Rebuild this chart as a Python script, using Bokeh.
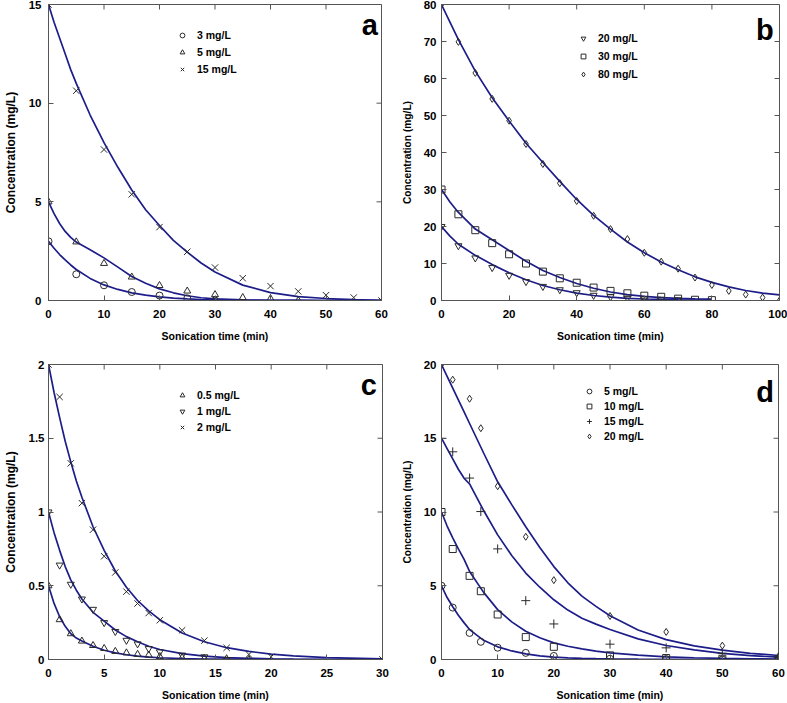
import math
from bokeh.plotting import figure
from bokeh.models import Range1d, Legend, LegendItem, Label, FixedTicker
from bokeh.layouts import column, row
from bokeh.embed import file_html
from bokeh.resources import INLINE

# ---------------- data ----------------
# Panel a
a_t3 = [0, 5, 10, 15, 20, 25, 30]
a_c3 = [3.0, 1.33, 0.77, 0.43, 0.25, 0.11, 0.0]
a_t5 = [0, 5, 10, 15, 20, 25, 30, 35, 40, 45]
a_c5 = [5.0, 2.97, 1.88, 1.19, 0.76, 0.48, 0.30, 0.15, 0.10, 0.0]
a_t15 = [0, 5, 10, 15, 20, 25, 30, 35, 40, 45, 50, 55, 60]
a_c15 = [15.0, 10.63, 7.65, 5.38, 3.72, 2.47, 1.67, 1.13, 0.73, 0.46, 0.27, 0.15, 0.0]
a_fit_t = [0, 1, 2, 3, 4, 5, 7.5, 10, 12.5, 15, 17.5, 20, 22.5, 25, 27.5, 30, 35, 40, 45, 50, 55, 60]
a_fit3 = [3.0, 2.65, 2.33, 2.06, 1.8, 1.57, 1.12, 0.79, 0.56, 0.39, 0.27, 0.18, 0.12, 0.08, 0.05, 0.035, 0.015, 0.007, 0.003, 0.001, 0.0, 0.0]
a_fit5 = [5.0, 4.4, 3.9, 3.5, 3.2, 2.96, 2.57, 2.16, 1.69, 1.22, 0.87, 0.59, 0.39, 0.24, 0.14, 0.08, 0.03, 0.01, 0.005, 0.0, 0.0, 0.0]
a_fit15 = [15.0, 14.1, 13.3, 12.5, 11.7, 11.0, 9.4, 8.0, 6.75, 5.6, 4.6, 3.8, 3.05, 2.45, 1.9, 1.44, 0.78, 0.4, 0.2, 0.1, 0.04, 0.01]

# Panel b
b_t20 = [0, 5, 10, 15, 20, 25, 30, 35, 40, 45, 50, 55, 60, 65, 70]
b_c20 = [20.0, 14.8, 11.5, 8.9, 6.8, 5.1, 3.8, 2.9, 2.1, 1.4, 1.0, 0.65, 0.45, 0.35, 0.2]
b_t30 = [0, 5, 10, 15, 20, 25, 30, 35, 40, 45, 50, 55, 60, 65, 70, 75, 80]
b_c30 = [30.0, 23.3, 19.0, 15.5, 12.5, 10.0, 7.8, 6.0, 4.8, 3.5, 2.6, 1.95, 1.3, 1.0, 0.5, 0.2, 0.1]
b_t80 = [0, 5, 10, 15, 20, 25, 30, 35, 40, 45, 50, 55, 60, 65, 70, 75, 80, 85, 90, 95, 100]
b_c80 = [80.0, 69.9, 61.5, 54.5, 48.6, 42.3, 36.9, 31.7, 26.9, 22.9, 19.3, 16.6, 12.9, 10.5, 8.6, 6.2, 4.2, 2.6, 1.6, 0.8, 0.0]
b_fit_t = [0, 2.5, 5, 10, 15, 20, 25, 30, 35, 40, 45, 50, 55, 60, 65, 70, 75, 80]
b_fit20 = [20.0, 17.4, 15.2, 12.2, 9.7, 7.5, 5.6, 4.05, 2.9, 2.0, 1.35, 0.9, 0.6, 0.4, 0.28, 0.2, 0.14, 0.1]
b_fit30 = [30.0, 26.6, 23.8, 19.3, 16.4, 13.5, 10.6, 8.1, 6.2, 4.6, 3.3, 2.3, 1.6, 1.1, 0.8, 0.6, 0.45, 0.35]
b_fit80_t = [0, 5, 10, 15, 20, 25, 30, 35, 40, 45, 50, 55, 60, 65, 70, 75, 80, 85, 90, 95, 100]
b_fit80 = [80.0, 70.5, 62.0, 54.8, 48.5, 42.5, 37.3, 32.2, 27.3, 23.0, 19.3, 15.8, 12.9, 10.4, 8.3, 6.4, 4.9, 3.7, 2.7, 2.0, 1.5]

# Panel c
c_t05 = [0, 1, 2, 3, 4, 5, 6, 7, 8, 9, 10, 12, 14, 16, 18]
c_c05 = [0.5, 0.27, 0.175, 0.125, 0.095, 0.075, 0.055, 0.045, 0.035, 0.03, 0.02, 0.012, 0.008, 0.005, 0.0]
c_t1 = [0, 1, 2, 3, 4, 5, 6, 7, 8, 9, 10, 12, 14, 16]
c_c1 = [1.0, 0.64, 0.51, 0.41, 0.34, 0.25, 0.19, 0.13, 0.106, 0.074, 0.052, 0.03, 0.018, 0.0]
c_t2 = [0, 1, 2, 3, 4, 5, 6, 7, 8, 9, 10, 12, 14, 16, 18, 20, 30]
c_c2 = [2.0, 1.78, 1.33, 1.06, 0.88, 0.70, 0.59, 0.46, 0.38, 0.315, 0.266, 0.198, 0.128, 0.079, 0.034, 0.018, 0.0]
c_fit_t = [0, 0.5, 1, 1.5, 2, 2.5, 3, 4, 5, 6, 7, 8, 9, 10, 12, 14, 16, 18, 20, 22, 25, 30]
c_fit05 = [0.5, 0.38, 0.29, 0.225, 0.175, 0.145, 0.125, 0.09, 0.063, 0.045, 0.032, 0.023, 0.016, 0.012, 0.006, 0.003, 0.002, 0.001, 0.0, 0.0, 0.0, 0.0]
c_fit1 = [1.0, 0.86, 0.74, 0.63, 0.54, 0.47, 0.41, 0.32, 0.26, 0.20, 0.155, 0.12, 0.09, 0.068, 0.04, 0.023, 0.013, 0.008, 0.005, 0.003, 0.001, 0.0]
c_fit2 = [2.0, 1.81, 1.64, 1.48, 1.34, 1.21, 1.10, 0.90, 0.74, 0.60, 0.49, 0.40, 0.33, 0.27, 0.18, 0.12, 0.08, 0.055, 0.037, 0.025, 0.013, 0.004]

# Panel d
d_t = [0, 2, 5, 7, 10, 15, 20, 30, 40, 50, 60]
d_c5 = [5.0, 3.52, 1.8, 1.2, 0.8, 0.45, 0.24, 0.05, 0.03, 0.0, 0.0]
d_c10 = [10.0, 7.49, 5.67, 4.63, 3.05, 1.52, 0.86, 0.28, 0.1, 0.05, 0.02]
d_c15 = [15.0, 14.08, 12.3, 10.03, 7.5, 3.99, 2.41, 1.04, 0.79, 0.42, 0.15]
d_c20 = [20.0, 18.97, 17.68, 15.68, 11.75, 8.32, 5.38, 2.95, 1.87, 0.94, 0.22]
d_fit_t = [0, 1, 2, 3, 4, 5, 7.5, 10, 12.5, 15, 17.5, 20, 22.5, 25, 27.5, 30, 35, 40, 45, 50, 55, 60]
d_fit5 = [5.0, 4.2, 3.58, 3.0, 2.5, 2.03, 1.3, 0.86, 0.58, 0.38, 0.25, 0.16, 0.11, 0.08, 0.055, 0.04, 0.02, 0.01, 0.005, 0.002, 0.0, 0.0]
d_fit10 = [10.0, 9.05, 8.25, 7.5, 6.8, 5.97, 4.55, 3.38, 2.55, 1.91, 1.47, 1.13, 0.9, 0.72, 0.57, 0.45, 0.3, 0.18, 0.12, 0.07, 0.045, 0.03]
d_fit15 = [15.0, 14.3, 13.6, 12.9, 12.3, 11.9, 10.1, 8.45, 7.05, 5.86, 4.9, 4.05, 3.35, 2.8, 2.4, 2.03, 1.4, 0.95, 0.65, 0.41, 0.26, 0.16]
d_fit20 = [20.0, 19.2, 18.4, 17.6, 16.8, 16.0, 14.0, 12.05, 10.5, 9.0, 7.6, 6.3, 5.2, 4.3, 3.6, 2.97, 2.0, 1.35, 0.92, 0.63, 0.42, 0.27]

# ticks
a_xticks = [0, 10, 20, 30, 40, 50, 60]
a_yticks = [0, 5, 10, 15]
b_xticks = [0, 20, 40, 60, 80, 100]
b_yticks = [0, 10, 20, 30, 40, 50, 60, 70, 80]
c_xticks = [0, 5, 10, 15, 20, 25, 30]
c_yticks = [0, 0.5, 1, 1.5, 2]
d_xticks = [0, 10, 20, 30, 40, 50, 60]
d_yticks = [0, 5, 10, 15, 20]

# ---------------- style ----------------
FONT = "Liberation Sans"
CURVE = "#1d1d8a"
MK = "#2a2a2a"
AX = "#555555"


def make_fig(w, h, xr, yr, xt, yt, bl, br, bt, bb, ylab_size, ystand):
    p = figure(width=w, height=h, x_range=Range1d(*xr), y_range=Range1d(*yr),
               output_backend="svg", toolbar_location=None,
               min_border_left=bl, min_border_right=br, min_border_top=bt, min_border_bottom=bb)
    p.grid.visible = False
    p.outline_line_color = AX
    p.outline_line_width = 1
    p.background_fill_color = "white"
    p.border_fill_color = "white"
    for ax in p.xaxis:
        ax.ticker = FixedTicker(ticks=xt)
        ax.axis_label = "Sonication time (min)"
        ax.major_label_standoff = 9
        ax.axis_label_standoff = 9
        ax.axis_label_text_font_size = "10.5px"
    for ax in p.yaxis:
        ax.ticker = FixedTicker(ticks=yt)
        ax.axis_label = "Concentration (mg/L)"
        ax.major_label_standoff = ystand
        ax.axis_label_standoff = 8
        ax.axis_label_text_font_size = ylab_size
    for ax in list(p.xaxis) + list(p.yaxis):
        ax.major_tick_in = 5
        ax.major_tick_out = 0
        ax.minor_tick_line_color = None
        ax.axis_line_color = AX
        ax.major_tick_line_color = AX
        ax.major_label_text_font = FONT
        ax.major_label_text_font_style = "bold"
        ax.major_label_text_font_size = "11.5px"
        ax.major_label_text_color = "black"
        ax.axis_label_text_font = FONT
        ax.axis_label_text_font_style = "bold"
        ax.axis_label_text_color = "black"
    # inward tick marks on the top and right frame edges
    p.ray(x=xt, y=[yr[1]] * len(xt), length=5, length_units="screen",
          angle=-math.pi / 2, line_color=AX, line_width=1)
    p.ray(x=[xr[1]] * len(yt), y=yt, length=5, length_units="screen",
          angle=math.pi, line_color=AX, line_width=1)
    return p


def pts(p, x, y, marker, size=7):
    return p.scatter(x, y, marker=marker, size=size, fill_color=None, line_color=MK, line_width=1)


def curve(p, x, y):
    p.line(x, y, line_color=CURVE, line_width=1.7)


def legend(p, items, loc, spacing):
    lg = Legend(items=[LegendItem(label=l, renderers=[r]) for l, r in items], location=loc,
                border_line_color=None, background_fill_alpha=0, padding=0, margin=0,
                glyph_width=14, glyph_height=12, label_height=12, spacing=spacing,
                label_standoff=8, label_text_font=FONT, label_text_font_style="bold",
                label_text_font_size="10.5px", label_text_color="black")
    p.add_layout(lg)


def letter(p, text, x, y):
    p.add_layout(Label(x=x, y=y, text=text, text_font=FONT, text_font_style="bold",
                       text_font_size="29px", text_align="center", text_baseline="alphabetic",
                       text_color="black"))


# ---------------- panel a ----------------
pa = make_fig(392, 344, (0, 60), (0, 15), a_xticks, a_yticks, 44, 11, 4, 44, "12px", 7)
curve(pa, a_fit_t, a_fit3)
curve(pa, a_fit_t, a_fit5)
curve(pa, a_fit_t, a_fit15)
ra1 = pts(pa, a_t3, a_c3, "circle", 7)
ra2 = pts(pa, a_t5, a_c5, "triangle", 7)
ra3 = pts(pa, a_t15, a_c15, "x", 9)
legend(pa, [("3 mg/L", ra1), ("5 mg/L", ra2), ("15 mg/L", ra3)], (127, 225), 5)
letter(pa, "a", 57.9, 13.95)

# ---------------- panel b ----------------
pb = make_fig(395, 344, (0, 100), (0, 80), b_xticks, b_yticks, 49, 8, 4, 44, "10.2px", 5)
curve(pb, b_fit_t, b_fit20)
curve(pb, b_fit_t, b_fit30)
curve(pb, b_fit80_t, b_fit80)
rb1 = pts(pb, b_t20, b_c20, "inverted_triangle", 7)
rb2 = pts(pb, b_t30, b_c30, "square", 7)
rb3 = pts(pb, b_t80, b_c80, "diamond", 7)
legend(pb, [("20 mg/L", rb1), ("30 mg/L", rb2), ("80 mg/L", rb3)], (135, 220), 6)
letter(pb, "b", 95.7, 73.0)

# ---------------- panel c ----------------
pc = make_fig(392, 359, (0, 30), (0, 2), c_xticks, c_yticks, 44, 10, 20, 43, "12px", 4)
curve(pc, c_fit_t, c_fit05)
curve(pc, c_fit_t, c_fit1)
curve(pc, c_fit_t, c_fit2)
rc1 = pts(pc, c_t05, c_c05, "triangle", 7)
rc2 = pts(pc, c_t1, c_c1, "inverted_triangle", 7)
rc3 = pts(pc, c_t2, c_c2, "x", 9)
legend(pc, [("0.5 mg/L", rc1), ("1 mg/L", rc2), ("2 mg/L", rc3)], (127, 226), 4)
letter(pc, "c", 28.76, 1.858)

# ---------------- panel d ----------------
pd = make_fig(395, 359, (0, 60), (0, 20), d_xticks, d_yticks, 49, 9, 20, 43, "10.2px", 5)
curve(pd, d_fit_t, d_fit5)
curve(pd, d_fit_t, d_fit10)
curve(pd, d_fit_t, d_fit15)
curve(pd, d_fit_t, d_fit20)
rd1 = pts(pd, d_t, d_c5, "circle", 7)
rd2 = pts(pd, d_t, d_c10, "square", 7)
rd3 = pts(pd, d_t, d_c15, "cross", 9)
rd4 = pts(pd, d_t, d_c20, "diamond", 7)
legend(pd, [("5 mg/L", rd1), ("10 mg/L", rd2), ("15 mg/L", rd3), ("20 mg/L", rd4)], (141, 217), 3)
letter(pd, "d", 57.6, 18.13)

layout = column(row(pa, pb), row(pc, pd))
layout.styles = {"position": "absolute", "left": "0px", "top": "0px"}

open("out.html", "w").write(file_html(layout, INLINE))
